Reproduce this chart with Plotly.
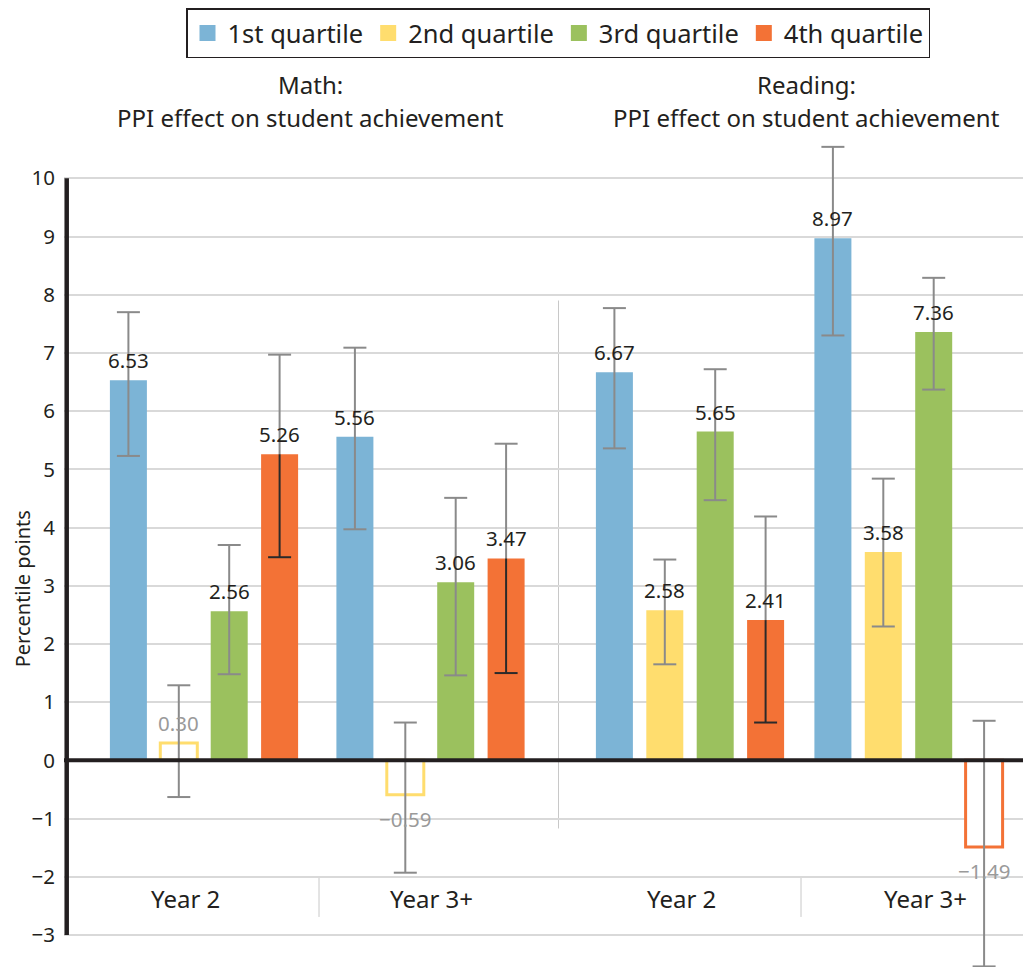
import plotly.graph_objects as go

# ---------------- data ----------------
groups = ["Math Year 2", "Math Year 3+", "Reading Year 2", "Reading Year 3+"]
group_labels = ["Year 2", "Year 3+", "Year 2", "Year 3+"]
quartiles = ["1st quartile", "2nd quartile", "3rd quartile", "4th quartile"]

q1_values = [6.53, 5.56, 6.67, 8.97]
q2_values = [0.30, -0.59, 2.58, 3.58]
q3_values = [2.56, 3.06, 5.65, 7.36]
q4_values = [5.26, 3.47, 2.41, -1.49]

q1_hi = [7.70, 7.09, 7.77, 10.54]
q1_lo = [5.23, 3.97, 5.36, 7.30]
q2_hi = [1.29, 0.65, 3.45, 4.84]
q2_lo = [-0.63, -1.93, 1.65, 2.30]
q3_hi = [3.70, 4.51, 6.72, 8.29]
q3_lo = [1.48, 1.46, 4.47, 6.37]
q4_hi = [6.97, 5.44, 4.19, 0.68]
q4_lo = [3.49, 1.50, 0.65, -3.54]

q1_significant = [True, True, True, True]
q2_significant = [False, False, True, True]
q3_significant = [True, True, True, True]
q4_significant = [True, True, True, False]

y_ticks = list(range(-3, 11))
panel_titles = ["Math:", "Reading:"]
panel_subtitle = "PPI effect on student achievement"
y_title = "Percentile points"

# ---------------- style / layout ----------------
colors = ["#7cb4d6", "#ffdd6e", "#9bc15e", "#f37236"]
TEXT = "#231f20"
GREY_TEXT = "#9a9a9a"
ERR_GREY = "#8a8a8a"
ERR_DARK = "#2a2a2a"
FONT = "Noto Sans"

W, H = 1031, 967          # target page size (px)
PAGE_PAD = 8              # browser body margin
ML, MT = 64, 120          # plot-area origin in page px
GROUP_X = [204, 430.5, 690, 908.5]      # group centres (x axis is in page px)
SLOT = 50.4
BAR_W = 37
CAP = 11.5
LABEL_X = [185, 431, 681, 925]
SEP_X = [319, 801]
PANEL_SEP_X = 558.5
PANEL_TITLE_X = [310, 806]


def paper_y(py):
    return (H - py) / (H - MT)


def paper_x(px):
    return (px - ML) / (W - ML)


values = [q1_values, q2_values, q3_values, q4_values]
his = [q1_hi, q2_hi, q3_hi, q4_hi]
los = [q1_lo, q2_lo, q3_lo, q4_lo]
sigs = [q1_significant, q2_significant, q3_significant, q4_significant]

fig = go.Figure()

grey_x, grey_y, dark_x, dark_y = [], [], [], []


def seg(xl, yl, x0, y0, x1, y1):
    xl.extend([x0, x1, None])
    yl.extend([y0, y1, None])


annotations = []
for qi in range(4):
    xs = [c + (qi - 1.5) * SLOT for c in GROUP_X]
    vals = values[qi]
    col = colors[qi]
    fills = [col if s else "white" for s in sigs[qi]]
    lws = [0 if s else 3 for s in sigs[qi]]
    fig.add_trace(go.Bar(
        x=xs, y=vals, width=BAR_W, name=quartiles[qi], showlegend=False,
        marker=dict(color=fills, line=dict(color=col, width=lws)),
        hoverinfo="skip",
    ))
    for x, v, hi, lo, s in zip(xs, vals, his[qi], los[qi], sigs[qi]):
        dark_inside = (qi == 3 and s and v > 0 and lo < v)
        if dark_inside:
            split = min(v, hi)
            seg(dark_x, dark_y, x, lo, x, split)
            seg(dark_x, dark_y, x - CAP, lo, x + CAP, lo)
            seg(grey_x, grey_y, x, split, x, hi)
            seg(grey_x, grey_y, x - CAP, hi, x + CAP, hi)
        else:
            seg(grey_x, grey_y, x, lo, x, hi)
            seg(grey_x, grey_y, x - CAP, lo, x + CAP, lo)
            seg(grey_x, grey_y, x - CAP, hi, x + CAP, hi)
        txt = f"{v:.2f}".replace("-", "\u2212")
        annotations.append(dict(
            x=x, y=v, xref="x", yref="y", text=txt, showarrow=False,
            yanchor="bottom" if v >= 0 else "top",
            yshift=4 if v >= 0 else -8,
            font=dict(family=FONT, size=20.5, color=TEXT if s else GREY_TEXT),
        ))

fig.add_trace(go.Scatter(x=grey_x, y=grey_y, mode="lines",
                         line=dict(color=ERR_GREY, width=2),
                         showlegend=False, hoverinfo="skip"))
fig.add_trace(go.Scatter(x=dark_x, y=dark_y, mode="lines",
                         line=dict(color=ERR_DARK, width=2),
                         showlegend=False, hoverinfo="skip"))

# legend entries
for qi in range(4):
    fig.add_trace(go.Scatter(x=[None], y=[None], mode="markers", name=quartiles[qi],
                             marker=dict(symbol="square", size=20, color=colors[qi])))

# group labels
for lx, lab in zip(LABEL_X, group_labels):
    annotations.append(dict(x=lx, y=-2.37, xref="x", yref="y", text=lab,
                            showarrow=False, font=dict(family=FONT, size=24, color=TEXT)))

# panel titles
for px, t in zip(PANEL_TITLE_X, panel_titles):
    annotations.append(dict(x=px, y=paper_y(81), xref="x", yref="paper", text=t,
                            showarrow=False, yanchor="middle",
                            font=dict(family=FONT, size=24, color=TEXT)))
    annotations.append(dict(x=px, y=paper_y(114), xref="x", yref="paper",
                            text=panel_subtitle, showarrow=False, yanchor="middle",
                            font=dict(family=FONT, size=24, color=TEXT)))

# y title
annotations.append(dict(x=paper_x(22), y=paper_y(588), xref="paper", yref="paper",
                        xanchor="center", yanchor="middle",
                        text=y_title, textangle=-90, showarrow=False,
                        font=dict(family=FONT, size=20, color=TEXT)))

shapes = [
    # panel separator
    dict(type="line", xref="x", yref="y", x0=PANEL_SEP_X, x1=PANEL_SEP_X, y0=-1.17, y1=7.9,
         line=dict(color="#c8c8c8", width=1), layer="below"),
    # zero line
    dict(type="line", xref="paper", yref="y", x0=0, x1=1, y0=0, y1=0,
         line=dict(color=TEXT, width=4), layer="above"),
    # y axis line
    dict(type="line", xref="x", yref="y", x0=66.7, x1=66.7, y0=-3, y1=10,
         line=dict(color=TEXT, width=4.5), layer="above"),
]
for sx in SEP_X:
    shapes.append(dict(type="line", xref="x", yref="y", x0=sx, x1=sx, y0=-2.0, y1=-2.69,
                       line=dict(color="#c8c8c8", width=1), layer="below"))

fig.update_layout(
    template="none",
    width=W - PAGE_PAD, height=H - PAGE_PAD,
    margin=dict(l=ML - PAGE_PAD, r=0, t=MT - PAGE_PAD, b=0),
    paper_bgcolor="white", plot_bgcolor="white",
    barmode="overlay",
    font=dict(family=FONT, color=TEXT),
    xaxis=dict(range=[ML, W], visible=False, fixedrange=True),
    yaxis=dict(range=[-3.55, 10.95], tickvals=y_ticks, showgrid=True,
               gridcolor="#d9d9d9", gridwidth=1.5, zeroline=False, showline=False,
               ticks="outside", ticklen=4, tickcolor="rgba(0,0,0,0)",
               tickfont=dict(family=FONT, size=20.5, color=TEXT)),
    legend=dict(orientation="h", x=paper_x(558), xanchor="center",
                y=paper_y(5), yanchor="top",
                bordercolor=TEXT, borderwidth=1.5,
                font=dict(family=FONT, size=25.5, color=TEXT),
                itemsizing="trace"),
    annotations=annotations,
    shapes=shapes,
    showlegend=True,
)

fig.write_html("out.html")
